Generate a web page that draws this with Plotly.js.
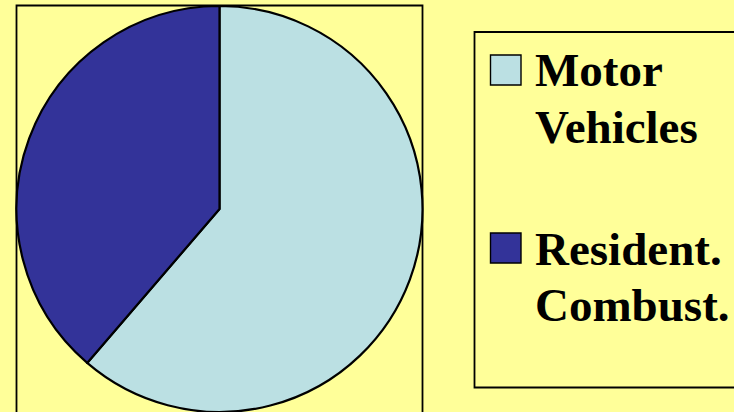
<!DOCTYPE html>
<html><head><meta charset="utf-8">
<script src="https://cdn.plot.ly/plotly-3.0.1.min.js"></script>
<style>html,body{margin:0;padding:0;background:#FFFF99;}#chart{width:734px;height:412px;}</style>
</head><body><div id="chart"></div>
<script>
const categories = ["Motor Vehicles", "Resident. Combust."];
const shares = [61.3, 38.7];
const sliceColors = ["#BBE0E3", "#333399"];

const W = 734, H = 412;
const px = x => x / W;
const py = y => 1 - y / H;

const shapes = [
  {type:'rect', xref:'paper', yref:'paper', x0:px(16.5), x1:px(422.5), y0:py(5.5), y1:py(420),
   line:{color:'#000', width:1.8}, fillcolor:'rgba(0,0,0,0)', layer:'below'},
  {type:'rect', xref:'paper', yref:'paper', x0:px(474.5), x1:px(745), y0:py(32), y1:py(387.5),
   line:{color:'#000', width:1.8}, fillcolor:'rgba(0,0,0,0)'}
];
const annotations = [];
const rowTop = [55, 233];
const lineTops = [[42, 99], [221, 277]];
categories.forEach((c, i) => {
  shapes.push({type:'rect', xref:'paper', yref:'paper', x0:px(490.5), x1:px(521), y0:py(rowTop[i]), y1:py(rowTop[i]+30),
    line:{color:'#000', width:1.4}, fillcolor:sliceColors[i]});
  c.split(' ').forEach((word, j) => {
    annotations.push({xref:'paper', yref:'paper', x:px(533), y:py(lineTops[i][j]), xanchor:'left', yanchor:'top',
      text:'<b>' + word + '</b>', showarrow:false, align:'left',
      font:{family:'Liberation Serif', size:47, color:'#000'}});
  });
});

const data = [{
  type:'pie', labels:categories, values:shares, sort:false, direction:'clockwise', rotation:0,
  marker:{colors:sliceColors, line:{color:'#000', width:2.2}},
  textinfo:'none', hoverinfo:'label+percent', showlegend:false,
  domain:{x:[px(16), px(423)], y:[0, 1 - 6/H]}
}];
const layout = {
  width:W, height:H, margin:{l:0,r:0,t:0,b:0},
  paper_bgcolor:'#FFFF99', plot_bgcolor:'#FFFF99',
  shapes, annotations, showlegend:false
};
Plotly.newPlot('chart', data, layout, {displayModeBar:false, staticPlot:true});
</script></body></html>
